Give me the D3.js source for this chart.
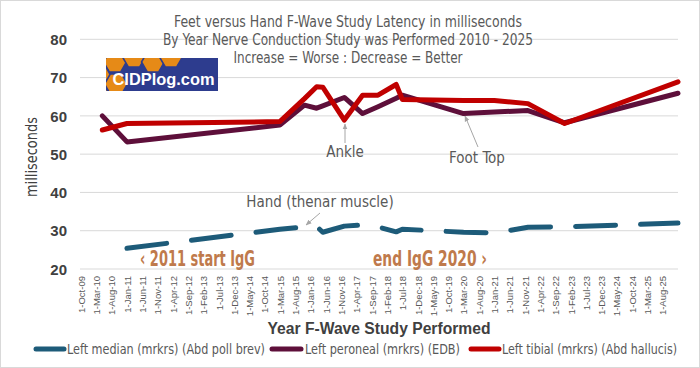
<!DOCTYPE html>
<html><head><meta charset="utf-8">
<script src="https://cdn.jsdelivr.net/npm/d3@7"></script>
<style>
html,body{margin:0;padding:0;background:#fff;}
svg{display:block;}
</style></head>
<body>
<script>
// ---- data ----
const dates = ["2010-05-01","2011-01-01","2015-03-01","2015-11-01","2016-03-01","2016-05-01","2016-12-01","2017-06-01","2017-11-01","2018-05-01","2018-07-01","2020-03-01","2021-01-01","2021-12-01","2022-12-01","2026-01-01"];
const median   = [null,25.4,30.4,31.0,31.1,29.6,31.2,31.5,31.0,29.7,30.4,29.6,29.4,30.9,31.0,32.0];
const peroneal = [60.0,53.2,57.6,62.8,62.0,62.6,64.8,60.6,62.4,64.6,65.4,60.6,61.0,61.4,58.2,65.9];
const tibial   = [56.3,58.0,58.5,64.5,67.6,67.5,58.9,65.4,65.4,68.2,64.3,64.0,64.0,63.2,58.0,68.9];
const seriesNames = ["Left median (mrkrs) (Abd poll brev)","Left peroneal (mrkrs) (EDB)","Left tibial (mrkrs) (Abd hallucis)"];
const yTicks = [20,30,40,50,60,70,80];
const axisStart = "2009-10-01";
const tickStepMonths = 5;
const titleLines = ["Feet versus Hand F-Wave Study Latency in milliseconds","By Year Nerve Conduction Study was Performed 2010 - 2025","Increase = Worse : Decrease = Better"];

// ---- setup ----
const W=700,H=368;
const parse=d3.timeParse("%Y-%m-%d");
const dts=dates.map(parse);
const NARROW="'Liberation Sans Narrow','Arial Narrow','DejaVu Sans Condensed',sans-serif";
const SANS="'Liberation Sans',Arial,sans-serif";
const svg=d3.select("body").append("svg").attr("width",W).attr("height",H);
svg.append("rect").attr("x",0.5).attr("y",0.5).attr("width",W-1).attr("height",H-1).attr("fill","#fff").attr("stroke","#d9d9d9");

const x=d3.scaleTime().domain([parse(axisStart),dts[dts.length-1]]).range([81,678]);
const y=d3.scaleLinear().domain([20,80]).range([269,39.3]);

// gridlines
svg.append("g").selectAll("line").data(yTicks).join("line")
  .attr("x1",80).attr("x2",678).attr("y1",d=>y(d)).attr("y2",d=>y(d))
  .attr("stroke","#d9d9d9").attr("stroke-width",1);

// y axis labels
const yAxis=d3.axisLeft(y).tickValues(yTicks).tickSize(0).tickPadding(0);
const gy=svg.append("g").attr("transform","translate(67,0)").call(yAxis);
gy.select(".domain").remove();
gy.selectAll("text").attr("font-family",SANS).attr("font-size",15).attr("font-weight","bold").attr("fill","#404040").attr("x",0).attr("dy","0.35em");

// x axis
const ticks=d3.range(0,39).map(i=>d3.timeMonth.offset(parse(axisStart),tickStepMonths*i));
const fmt=d3.timeFormat("%-d-%b-%y");
const xAxis=d3.axisBottom(x).tickValues(ticks).tickFormat(fmt).tickSize(0);
const gx=svg.append("g").attr("transform","translate(0,269)").call(xAxis);
gx.select(".domain").remove();
gx.selectAll("text").attr("font-family",SANS).attr("font-size",9.5).attr("fill","#595959")
  .attr("text-anchor","end").attr("transform","rotate(-90)").attr("x",-7).attr("y",0).attr("dy","0.35em");

// titles
const titleLens=[348,370,229];
titleLines.forEach((t,i)=>{
  svg.append("text").attr("x",348).attr("y",[27,45,63][i]).attr("text-anchor","middle")
    .attr("font-family",NARROW).attr("font-size",15).attr("fill","#595959")
    .attr("textLength",titleLens[i]).attr("lengthAdjust","spacingAndGlyphs").text(t);
});
svg.append("text").attr("transform","translate(37,157) rotate(-90)").attr("text-anchor","middle")
  .attr("font-family",NARROW).attr("font-size",16).attr("fill","#404040")
  .attr("textLength",80).attr("lengthAdjust","spacingAndGlyphs").text("milliseconds");
svg.append("text").attr("x",379).attr("y",334).attr("text-anchor","middle")
  .attr("font-family",SANS).attr("font-size",16).attr("font-weight","bold").attr("fill","#404040")
  .attr("textLength",223).attr("lengthAdjust","spacingAndGlyphs").text("Year F-Wave Study Performed");

// logo
const logo=svg.append("g").attr("transform","translate(106,58)");
svg.append("clipPath").attr("id","lc").append("rect").attr("width",112).attr("height",33);
const lg=logo.append("g").attr("clip-path","url(#lc)");
lg.append("rect").attr("width",112).attr("height",33).attr("fill","#2d3c8e");
const hex=(cx,cy,r)=>d3.range(6).map(k=>{const a=Math.PI/3*k;return [cx+r*Math.cos(a),cy+r*Math.sin(a)];});
const hexCenters=[[9,4],[28,-1],[47,4],[65,-1],[-7,17],[-7,38],[10,26]];
lg.selectAll("polygon").data(hexCenters).join("polygon")
  .attr("points",d=>hex(d[0],d[1],11.5).map(p=>p.join(",")).join(" "))
  .attr("fill","#e68a17").attr("stroke","#2d3c8e").attr("stroke-width",1.6);
logo.append("text").attr("x",6.5).attr("y",27).attr("font-family",SANS).attr("font-weight","bold")
  .attr("font-size",17).attr("fill","#fff").attr("textLength",102).attr("lengthAdjust","spacingAndGlyphs").text("CIDPlog.com");

// IgG notes
svg.append("text").attr("x",140).attr("y",266).attr("font-family",NARROW).attr("font-weight","bold")
  .attr("font-size",22).attr("fill","#bf7a4c").attr("textLength",115).attr("lengthAdjust","spacingAndGlyphs").text("‹ 2011 start IgG");
svg.append("text").attr("x",373).attr("y",266).attr("font-family",NARROW).attr("font-weight","bold")
  .attr("font-size",22).attr("fill","#bf7a4c").attr("textLength",114).attr("lengthAdjust","spacingAndGlyphs").text("end IgG 2020 ›");

// lines
const colors=["#1d5b79","#5e0f3a","#c00000"];
const vals=[median,peroneal,tibial];
const line=d3.line().defined(d=>d[1]!=null).x(d=>x(d[0])).y(d=>y(d[1]));
vals.forEach((v,i)=>{
  const p=svg.append("path").datum(dts.map((d,j)=>[d,v[j]])).attr("d",line)
    .attr("fill","none").attr("stroke",colors[i]).attr("stroke-width",5)
    .attr("stroke-linejoin","round").attr("stroke-linecap","round");
  if(i===0) p.attr("stroke-dasharray","40,25");
});

// annotations
const defs=svg.append("defs");
defs.append("marker").attr("id","ah").attr("viewBox","0 0 10 10").attr("refX",9).attr("refY",5)
  .attr("markerWidth",6).attr("markerHeight",6).attr("orient","auto")
  .append("path").attr("d","M0,1 L10,5 L0,9 Z").attr("fill","#a6a6a6");
const ann=[
  {t:"Ankle",tx:345,ty:157,x1:345,y1:143,x2:345,y2:124},
  {t:"Foot Top",tx:477,ty:163,x1:478,y1:147,x2:465,y2:116},
  {t:"Hand (thenar muscle)",tx:320,ty:207,x1:320,y1:213,x2:306,y2:225}
];
ann.forEach(a=>{
  svg.append("line").attr("x1",a.x1).attr("y1",a.y1).attr("x2",a.x2).attr("y2",a.y2)
    .attr("stroke","#a6a6a6").attr("stroke-width",1).attr("marker-end","url(#ah)");
  svg.append("text").attr("x",a.tx).attr("y",a.ty).attr("text-anchor","middle")
    .attr("font-family",NARROW).attr("font-size",15).attr("fill","#595959").text(a.t);
});

// legend
const legX=[[34,66,67,198],[270,303,305,155],[469,501,502,175]];
seriesNames.forEach((n,i)=>{
  const L=legX[i];
  svg.append("line").attr("x1",L[0]+2).attr("x2",L[1]-2).attr("y1",349).attr("y2",349)
    .attr("stroke",colors[i]).attr("stroke-width",5).attr("stroke-linecap","round");
  svg.append("text").attr("x",L[2]).attr("y",354).attr("font-family",NARROW).attr("font-size",14)
    .attr("fill","#595959").attr("textLength",L[3]).attr("lengthAdjust","spacingAndGlyphs").text(n);
});
</script>
</body></html>
